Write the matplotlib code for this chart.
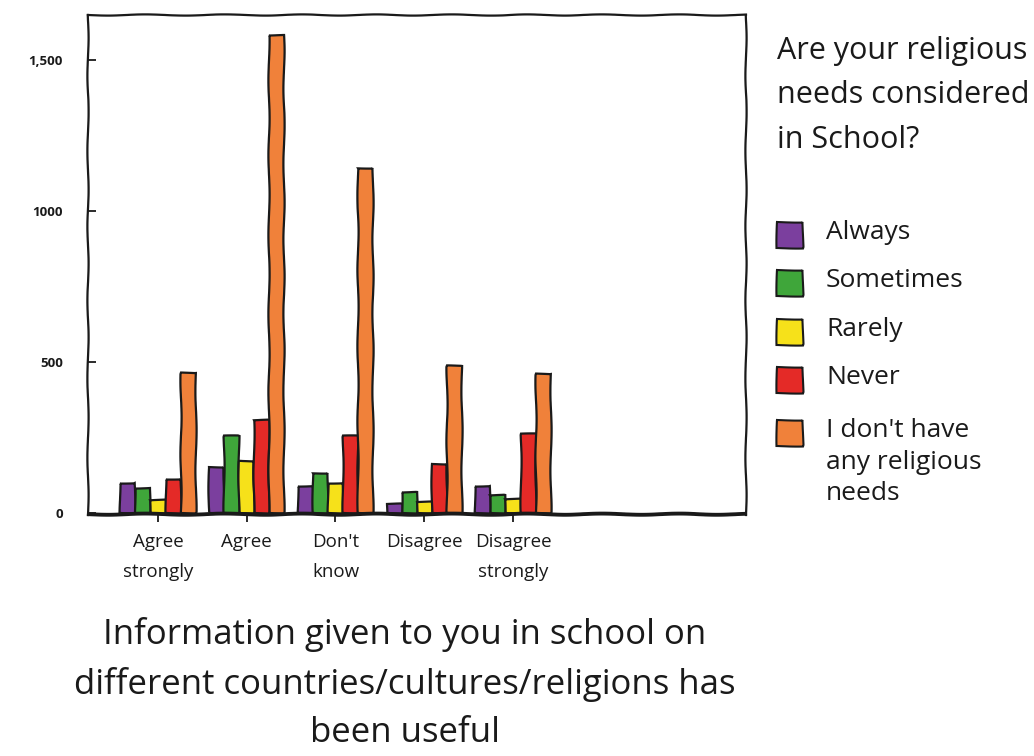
import matplotlib
matplotlib.use("Agg")
import matplotlib.pyplot as plt
import numpy as np
from matplotlib.patches import Rectangle

# agreement with "information given in school ... has been useful"
categories = ["Agree\nstrongly", "Agree", "Don't\nknow", "Disagree", "Disagree\nstrongly"]
series_names = ["Always", "Sometimes", "Rarely", "Never",
                "I don't have\nany religious\nneeds"]
always = [100, 152, 88, 30, 90]
sometimes = [83, 255, 132, 70, 60]
rarely = [43, 172, 99, 37, 45]
never = [113, 308, 255, 160, 260]
no_needs = [463, 1585, 1142, 485, 460]

y_ticks = [0, 500, 1000, 1500]
y_tick_labels = ["0", "500", "1000", "1,500"]

colors = ["#7b3f9e", "#3fa63a", "#f6e11a", "#e42a27", "#f0813a"]
ink = "#1a1a1a"

W, H = 1034, 756

plt.rcParams["font.family"] = ["Open Sans", "DejaVu Sans"]
plt.rcParams["text.color"] = ink
plt.rcParams["path.sketch"] = (0.6, 80, 1.5)

fig = plt.figure(figsize=(W / 100, H / 100), dpi=100)
ax = fig.add_axes([0.085, 0.319, 0.636, 0.661])

x = np.arange(len(categories))
width = 0.17
for i, (values, color) in enumerate(zip([always, sometimes, rarely, never, no_needs], colors)):
    ax.bar(x + (i - 2) * width, values, width=width, color=color,
           edgecolor=ink, linewidth=1.6, zorder=3)

ax.set_xlim(-0.79, 6.62)
ax.set_ylim(-7, 1650)
ax.axhline(0, color=ink, linewidth=1.8, zorder=4)
for side in ["left", "right", "top", "bottom"]:
    ax.spines[side].set_linewidth(1.6)
    ax.spines[side].set_color(ink)

ax.set_yticks(y_ticks)
ax.set_yticklabels(y_tick_labels, fontsize=9.5, fontweight="bold")
ax.tick_params(axis="y", direction="in", length=6, width=1.3, pad=18, colors=ink)
ax.set_xticks(x)
ax.set_xticklabels(categories, fontsize=13.5, linespacing=1.9)
ax.tick_params(axis="x", direction="out", length=5, width=1.3, pad=8, colors=ink)

fig.text(405 / W, 1 - 742 / H,
         "Information given to you in school on\n"
         "different countries/cultures/religions has\n"
         "been useful", fontsize=25, linespacing=1.55,
         ha="center", va="baseline", multialignment="center")

# legend drawn by hand so the swatch sits by the first line of each label
fig.text(777 / W, 1 - 36 / H, "Are your religious\nneeds considered\nin School?",
         fontsize=22, linespacing=1.62, ha="left", va="top")
entry_y = [235, 283, 332, 380, 433]
for name, color, yc in zip(series_names, colors, entry_y):
    fig.add_artist(Rectangle((777 / W, 1 - (yc + 13) / H), 26 / W, 26 / H,
                             transform=fig.transFigure, facecolor=color,
                             edgecolor=ink, linewidth=1.5))
    fig.text(826 / W, 1 - (yc - 15) / H, name, fontsize=19,
             linespacing=1.35, ha="left", va="top")

fig.savefig("out.png", dpi=100)
